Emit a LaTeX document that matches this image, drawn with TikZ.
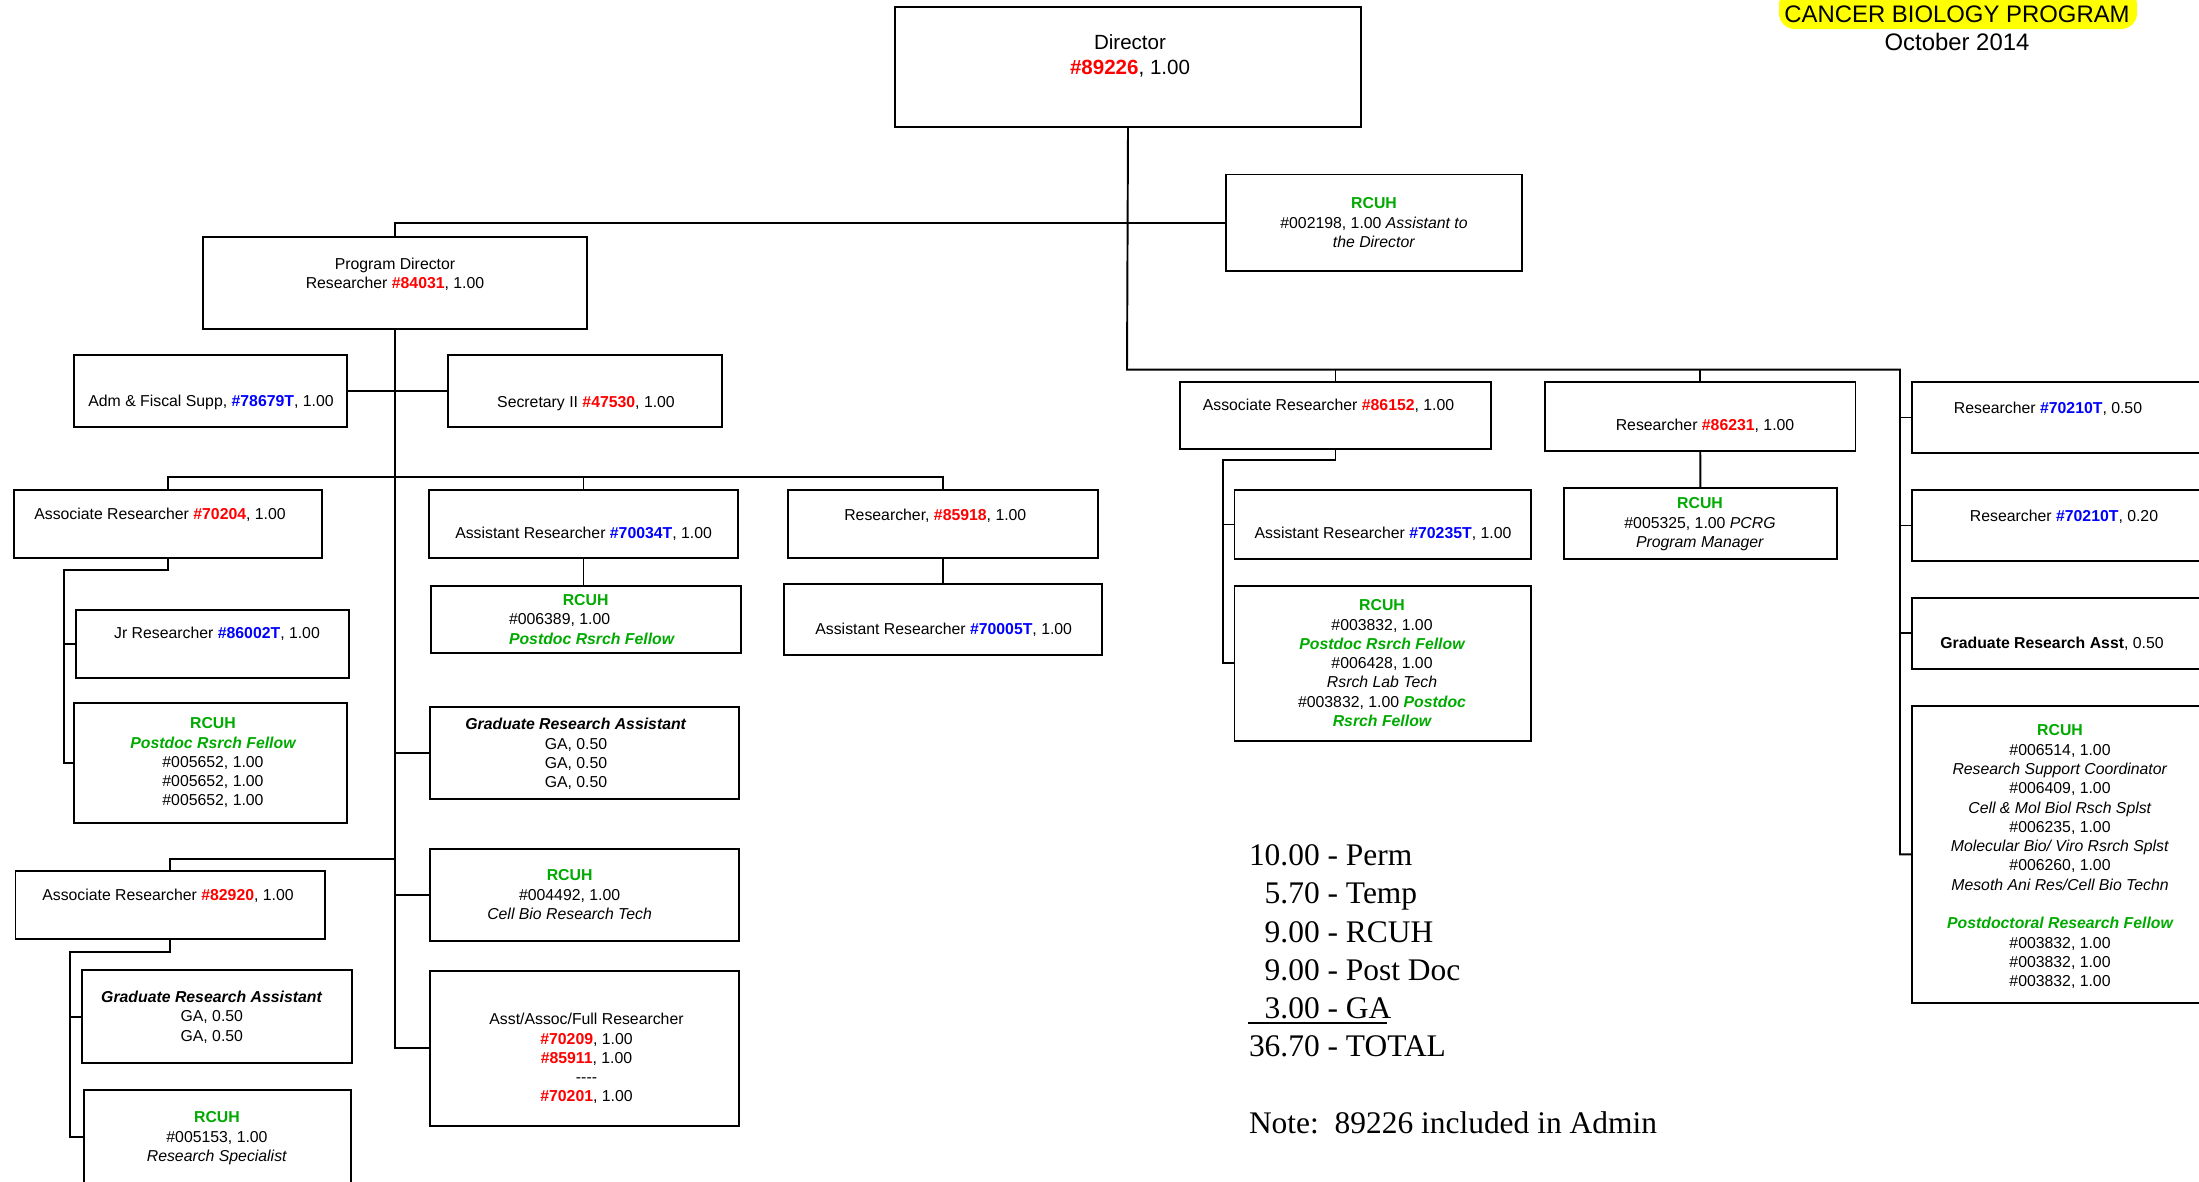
\documentclass[tikz,border=0pt]{standalone}
\usepackage{fontspec}
\setmainfont{Liberation Sans}
\newfontfamily\legfont{Liberation Serif}
\definecolor{cred}{RGB}{255,0,0}
\definecolor{cblue}{RGB}{0,0,255}
\definecolor{cgreen}{RGB}{0,170,0}
\definecolor{cyel}{RGB}{255,255,0}
\newcommand\hred[1]{\textcolor{cred}{\bfseries #1}}
\newcommand\hblu[1]{\textcolor{cblue}{\bfseries #1}}
\newcommand\hgrn[1]{\textcolor{cgreen}{\bfseries #1}}
\newcommand\hgri[1]{\textcolor{cgreen}{\bfseries\itshape #1}}
\newcommand\bx[5]{\node[bx, minimum width={(#4-#2)*0.02cm}, minimum height={(#5-#3)*0.02cm}] (#1) at ({(#2+#4)/2},{(#3+#5)/2}) {};}
\tikzset{
  bx/.style={draw, rectangle, line width=1.1pt, inner sep=0pt, outer sep=0pt},
  txt/.style={inner sep=0pt, outer sep=0pt, font=\fontsize{9}{10.98}\selectfont, align=center, anchor=base},
  ltxt/.style={txt, align=left, anchor=base west},
  conn/.style={line width=1.1pt}
}
\begin{document}
\begin{tikzpicture}[x=0.02cm,y=-0.02cm]
\useasboundingbox (0,0) rectangle (2199,1181);
\clip (0,0) rectangle (2199,1181);
% title
\node[fill=cyel, rounded corners=9pt, minimum width={358*0.02cm}, minimum height={40*0.02cm}, inner sep=0pt] (hl) at (1958,9) {};
\node[txt, font=\fontsize{13.6}{16}\selectfont] (title) at (1957,22.6) {CANCER BIOLOGY PROGRAM};
\node[txt, font=\fontsize{13.6}{16}\selectfont] (date) at (1957,50.6) {October 2014};

% boxes
\bx{dir}{895}{7}{1361}{127}
\bx{asst}{1226}{174.5}{1522}{271}
\bx{pd}{203}{236.7}{587}{329}
\bx{adm}{73.7}{355}{347}{426.7}
\bx{sec}{448.4}{355}{722}{426.7}
\bx{a70204}{13.6}{490}{322}{558}
\bx{a70034}{429}{490}{738}{558}
\bx{r85918}{788.3}{490}{1097.7}{558.3}
\bx{jr}{76}{610}{349}{678}
\bx{rcA}{73.7}{702.7}{347}{822.7}
\bx{rcB}{431.4}{586}{740.7}{652.7}
\bx{a70005}{784}{584}{1101.7}{655}
\bx{gra1}{430}{707}{739}{799}
\bx{rc4}{430}{849}{739}{940.7}
\bx{aaf}{430}{971}{739}{1125.7}
\bx{a82920}{15.5}{870.7}{324.8}{939}
\bx{gra2}{82.4}{970}{352}{1063.3}
\bx{rc5}{83.9}{1090}{351}{1184}
\bx{ar86152}{1180}{382}{1491}{449}
\bx{r86231}{1545}{382}{1855.5}{451}
\bx{a70235}{1234.5}{490}{1531}{559}
\bx{rc3}{1234.5}{586}{1531}{740.6}
\bx{pcrg}{1563.6}{487.6}{1837}{559}
\bx{r70a}{1911.7}{382}{2215}{453}
\bx{r70b}{1911.7}{490}{2215}{561}
\bx{gra3}{1911.7}{597.7}{2215}{669}
\bx{rbig}{1911.7}{705.7}{2215}{1003}

% connectors
\coordinate (j2) at (1127,369.7);
\coordinate (rc) at (1900,854.35);
\draw[conn] (dir.south) -- (j2) -| (rc) -- (rbig.west);
\draw[conn] (pd.north) |- (asst.west);
\draw[conn] (r70a.west -| rc) -- (r70a.west);
\draw[conn] (r70b.west -| rc) -- (r70b.west);
\draw[conn] (gra3.west -| rc) -- (gra3.west);
\draw[conn] (ar86152.north |- j2) -- (ar86152.north);
\draw[conn] (r86231.north |- j2) -- (r86231.north);
\draw[conn] (r86231.south) -- (pcrg.north);
\coordinate (k1) at (1223,460);
\draw[conn] (ar86152.south) |- (k1) |- (rc3.west);
\draw[conn] (k1 |- a70235.west) -- (a70235.west);

\coordinate (b1) at (395,477);
\coordinate (b2) at (395,859);
\draw[conn] (pd.south) -- (aaf.west -| pd.south) -- (aaf.west);
\draw[conn] (adm.east) -- (sec.west);
\draw[conn] (a70204.north) |- (r85918.north |- b1) -- (r85918.north);
\draw[conn] (a70034.north |- b1) -- (a70034.north);
\draw[conn] (a70034.south) -- (a70034.south |- rcB.north);
\draw[conn] (r85918.south) -- (r85918.south |- a70005.north);
\coordinate (k2) at (64,570);
\draw[conn] (a70204.south) |- (k2) |- (rcA.west);
\draw[conn] (k2 |- jr.west) -- (jr.west);
\draw[conn] (gra1.west -| pd.south) -- (gra1.west);
\draw[conn] (b2) -| (a82920.north);
\draw[conn] (rc4.west -| pd.south) -- (rc4.west);
\coordinate (k3) at (70.3,951.7);
\draw[conn] (a82920.south) |- (k3) |- (rc5.west);
\draw[conn] (k3 |- gra2.west) -- (gra2.west);

% texts (y = baseline of the LAST line)
\node[txt, font=\fontsize{11.7}{14.2}\selectfont] (tdir) at (1130,74.4) {Director\\\hred{\#89226}, 1.00};
\node[txt] (tasst) at (1374,247.3) {\hgrn{RCUH}\\\#002198, 1.00 \textit{Assistant to}\\\textit{the Director}};
\node[txt, font=\fontsize{9}{10.6}\selectfont] (tpd) at (395,288.4) {Program Director\\Researcher \hred{\#84031}, 1.00};
\node[txt] (tadm) at (211,406.4) {Adm \& Fiscal Supp, \hblu{\#78679T}, 1.00};
\node[txt] (tsec) at (586,407.4) {Secretary II \hred{\#47530}, 1.00};
\node[txt] (ta70204) at (160,519.7) {Associate Researcher \hred{\#70204}, 1.00};
\node[txt] (ta70034) at (583.6,538.7) {Assistant Researcher \hblu{\#70034T}, 1.00};
\node[txt] (tr85918) at (935.3,520) {Researcher, \hred{\#85918}, 1.00};
\node[txt] (ta70005) at (943.7,634) {Assistant Researcher \hblu{\#70005T}, 1.00};
\node[txt] (tjr) at (217,638.7) {Jr Researcher \hblu{\#86002T}, 1.00};
\node[txt] (trcA) at (213,805.9) {\hgrn{RCUH}\\\hgri{Postdoc Rsrch Fellow}\\\#005652, 1.00\\\#005652, 1.00\\\#005652, 1.00};
\node[txt] (trcB1) at (585.6,605) {\hgrn{RCUH}};
\node[ltxt] (trcB2) at (509,644) {\#006389, 1.00\\\hgri{Postdoc Rsrch Fellow}};
\node[txt] (tgra1) at (576,787.6) {\textbf{\textit{Graduate Research Assistant}}\\GA, 0.50\\GA, 0.50\\GA, 0.50};
\node[txt] (trc4) at (569.6,919.3) {\hgrn{RCUH}\\\#004492, 1.00\\\textit{Cell Bio Research Tech}};
\node[txt] (taaf) at (586.5,1101.9) {Asst/Assoc/Full Researcher\\\hred{\#70209}, 1.00\\\hred{\#85911}, 1.00\\-{}-{}-{}-\\\hred{\#70201}, 1.00};
\node[txt] (ta82920) at (168,900) {Associate Researcher \hred{\#82920}, 1.00};
\node[txt] (tgra2) at (211.8,1041) {\textbf{\textit{Graduate Research Assistant}}\\GA, 0.50\\GA, 0.50};
\node[txt] (trc5) at (217,1161.3) {\hgrn{RCUH}\\\#005153, 1.00\\\textit{Research Specialist}};
\node[txt] (tar86152) at (1328.5,410.7) {Associate Researcher \hred{\#86152}, 1.00};
\node[txt] (tr86231) at (1705,430.7) {Researcher \hred{\#86231}, 1.00};
\node[txt] (ta70235) at (1383,538.7) {Assistant Researcher \hblu{\#70235T}, 1.00};
\node[txt] (trc3) at (1382,726.5) {\hgrn{RCUH}\\\#003832, 1.00\\\hgri{Postdoc Rsrch Fellow}\\\#006428, 1.00\\\textit{Rsrch Lab Tech}\\\#003832, 1.00 \hgri{Postdoc}\\\hgri{Rsrch Fellow}};
\node[txt] (tpcrg) at (1700,547.3) {\hgrn{RCUH}\\\#005325, 1.00 \textit{PCRG}\\\textit{Program Manager}};
\node[txt] (tr70a) at (2048,413.4) {Researcher \hblu{\#70210T}, 0.50};
\node[txt] (tr70b) at (2064,521.4) {Researcher \hblu{\#70210T}, 0.20};
\node[txt] (tgra3) at (2052,648.4) {\textbf{Graduate Research Asst}, 0.50};
\node[txt] (trbig) at (2060,986.6) {\hgrn{RCUH}\\\#006514, 1.00\\\textit{Research Support Coordinator}\\\#006409, 1.00\\\textit{Cell \& Mol Biol Rsch Splst}\\\#006235, 1.00\\\textit{Molecular Bio/ Viro Rsrch Splst}\\\#006260, 1.00\\\textit{Mesoth Ani Res/Cell Bio Techn}\\[10.98pt]\hgri{Postdoctoral Research Fellow}\\\#003832, 1.00\\\#003832, 1.00\\\#003832, 1.00};

% legend
\node[ltxt, font=\legfont\fontsize{17.9}{21.75}\selectfont] (leg) at (1249,1056.8) {10.00 - Perm\\\phantom{0}5.70 - Temp\\\phantom{0}9.00 - RCUH\\\phantom{0}9.00 - Post Doc\\\phantom{0}3.00 - GA\\36.70 - TOTAL};
\coordinate (ul1) at (1248,1023.3);
\coordinate (ul2) at (1387,1023.3);
\draw[line width=1.1pt] (ul1) -- (ul2);
\node[ltxt, font=\legfont\fontsize{17.9}{21.75}\selectfont] (note) at (1249,1133.3) {Note:\ \ 89226 included in Admin};
\end{tikzpicture}
\end{document}
